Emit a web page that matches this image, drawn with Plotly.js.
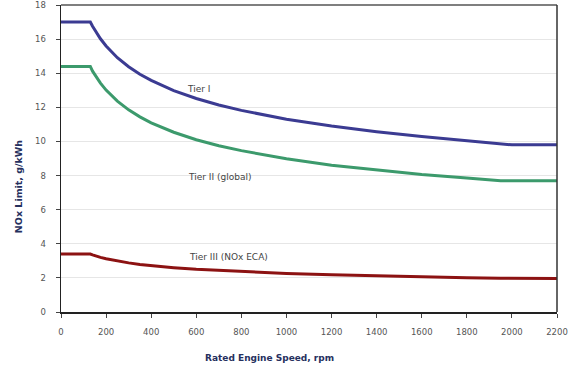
<!DOCTYPE html>
<html>
<head>
<meta charset="utf-8">
<script src="https://cdn.plot.ly/plotly-3.0.1.min.js"></script>
<style>body{margin:0;padding:0;background:#fff}#chart{width:573px;height:369px}</style>
</head>
<body>
<div id="chart"></div>
<script>
var speed = [0, 130, 140, 150, 160, 175, 200, 225, 250, 300, 350, 400, 500, 600, 700, 800, 900, 1000, 1200, 1400, 1600, 1800, 1950, 2000, 2200];
var tierI  = [17.0, 17.0, 16.75, 16.52, 16.31, 16.02, 15.60, 15.23, 14.91, 14.38, 13.94, 13.58, 12.98, 12.52, 12.14, 11.82, 11.54, 11.30, 10.90, 10.57, 10.29, 10.05, 9.89, 9.8, 9.8];
var tierII = [14.4, 14.4, 14.12, 13.90, 13.69, 13.42, 13.01, 12.66, 12.36, 11.85, 11.44, 11.09, 10.54, 10.10, 9.75, 9.46, 9.20, 8.98, 8.61, 8.32, 8.06, 7.85, 7.7, 7.7, 7.7];
var tierIII = [3.4, 3.4, 3.35, 3.30, 3.26, 3.20, 3.12, 3.05, 2.98, 2.88, 2.79, 2.72, 2.60, 2.50, 2.43, 2.36, 2.31, 2.26, 2.18, 2.11, 2.06, 2.01, 1.98, 1.97, 1.97];
var labels = ["Tier I", "Tier II (global)", "Tier III (NOx ECA)"];
var labelX = [610, 705, 745];
var labelY = [13.1, 7.9, 3.2];
var xTicks = [0, 200, 400, 600, 800, 1000, 1200, 1400, 1600, 1800, 2000, 2200];
var yTicks = [0, 2, 4, 6, 8, 10, 12, 14, 16, 18];
var xTitle = "Rated Engine Speed, rpm";
var yTitle = "NOx Limit, g/kWh";

var colors = ["#3b3b92", "#3c9a6c", "#8c1212"];
var series = [tierI, tierII, tierIII];
var traces = series.map(function (s, i) {
  return {x: speed, y: s, mode: "lines", type: "scatter",
    line: {color: colors[i], width: 3, shape: "linear"}, hoverinfo: "none", showlegend: false};
});

var annotations = labels.map(function (t, i) {
  return {x: labelX[i], y: labelY[i], text: t, showarrow: false,
    font: {family: "DejaVu Sans", size: 9, color: "#444"}, xanchor: "center", yanchor: "middle"};
});
annotations.push({xref: "paper", yref: "paper", x: 0.421, y: -0.150, text: "<b>" + xTitle + "</b>",
  showarrow: false, xanchor: "center", yanchor: "middle",
  font: {family: "DejaVu Sans", size: 9, color: "#26305e"}});
annotations.push({xref: "paper", yref: "paper", x: -0.0867, y: 0.41, text: "<b>" + yTitle + "</b>",
  textangle: -90, showarrow: false, xanchor: "center", yanchor: "middle",
  font: {family: "DejaVu Sans", size: 9.5, color: "#26305e"}});

var layout = {
  width: 573, height: 369,
  margin: {l: 61, r: 16, t: 5, b: 57},
  paper_bgcolor: "#fff", plot_bgcolor: "#fff",
  showlegend: false,
  font: {family: "DejaVu Sans", size: 8, color: "#555"},
  xaxis: {
    range: [0, 2200], tickvals: xTicks, ticktext: xTicks.map(String),
    showgrid: false, zeroline: false,
    showline: true, linecolor: "#222", linewidth: 1.5, mirror: false,
    ticks: "outside", ticklen: 4, tickcolor: "#444", tickwidth: 1,
    ticklabelstandoff: 7, ticklabeloverflow: "allow",
    tickfont: {family: "DejaVu Sans", size: 8.5, color: "#555"}
  },
  yaxis: {
    range: [0, 18], tickvals: yTicks, ticktext: yTicks.map(String),
    showgrid: true, gridcolor: "#e6e6e6", gridwidth: 1, zeroline: false,
    showline: true, linecolor: "#222", linewidth: 1.5,
    ticks: "outside", ticklen: 4, tickcolor: "#444", tickwidth: 1,
    ticklabelstandoff: 8, ticklabeloverflow: "allow",
    tickfont: {family: "DejaVu Sans", size: 8.5, color: "#555"}
  },
  shapes: [
    {type: "line", xref: "paper", yref: "paper", x0: 0, x1: 1, y0: 1, y1: 1, line: {color: "#555", width: 1.5}},
    {type: "line", xref: "paper", yref: "paper", x0: 1, x1: 1, y0: 0, y1: 1, line: {color: "#333", width: 1.5}}
  ],
  annotations: annotations
};

Plotly.newPlot("chart", traces, layout, {displayModeBar: false, staticPlot: true});
</script>
</body>
</html>
